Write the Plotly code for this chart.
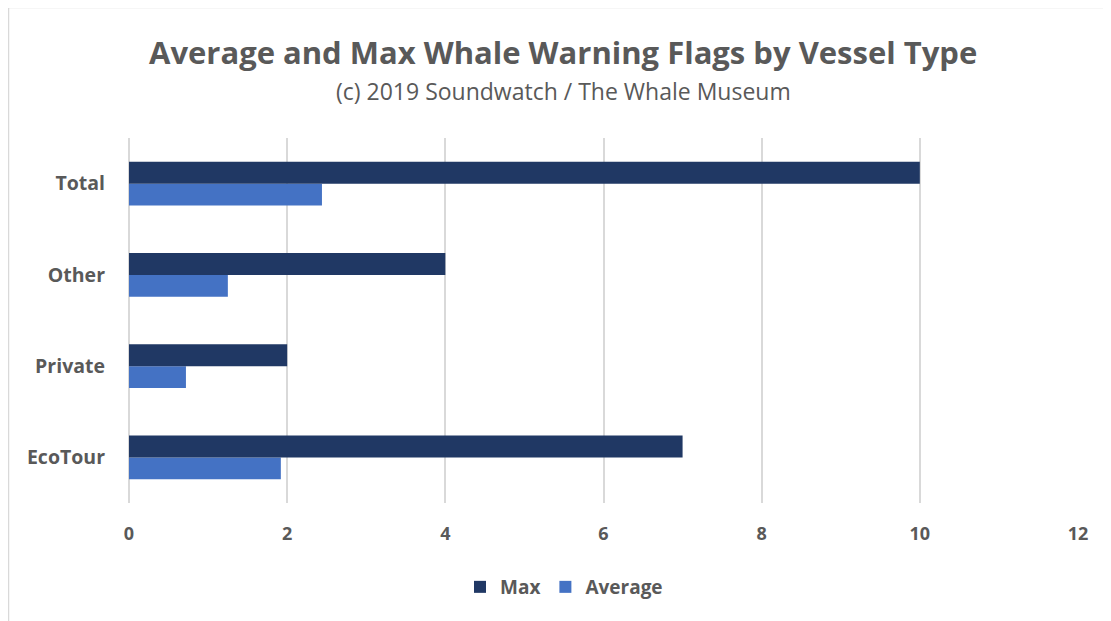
import plotly.graph_objects as go

categories = ["EcoTour", "Private", "Other", "Total"]
max_flags = [7, 2, 4, 10]
avg_flags = [1.92, 0.72, 1.25, 2.44]
x_ticks = [0, 2, 4, 6, 8, 10, 12]

FONT = "Open Sans"
GRAY = "#595959"

# page is drawn with an 8px body margin, so the figure is 8px smaller
W, H = 1103, 613
L, T, R, B = 121, 130, 33, 118
PH = H - T - B  # plot height


def py(fig_y):
    # figure pixel row -> paper y
    return (H - B - fig_y) / PH


def px_(fig_x):
    return (fig_x - L) / (W - L - R)


fig = go.Figure()
# first trace sits lowest in each group, so Average goes first
fig.add_trace(go.Bar(y=categories, x=avg_flags, name="Average", orientation="h",
                     marker=dict(color="#4472C4", line=dict(width=0))))
fig.add_trace(go.Bar(y=categories, x=max_flags, name="Max", orientation="h",
                     marker=dict(color="#203864", line=dict(width=0))))

fig.update_layout(
    width=W,
    height=H,
    margin=dict(l=L, r=R, t=T, b=B),
    plot_bgcolor="white",
    paper_bgcolor="white",
    barmode="group",
    bargap=0.52,
    bargroupgap=0,
    font=dict(family=FONT, color=GRAY),
    showlegend=True,
    legend=dict(orientation="h", traceorder="reversed", x=px_(556), xanchor="center",
                y=py(579), yanchor="middle",
                font=dict(size=19, color=GRAY, family=FONT, weight="bold"),
                itemwidth=30),
    xaxis=dict(range=[0, 12], tickvals=x_ticks, showgrid=True, gridcolor="#d9d9d9",
               gridwidth=1.5, zeroline=True, zerolinecolor="#d9d9d9", zerolinewidth=1.5,
               showline=False, ticks="",
               tickfont=dict(size=18, color=GRAY, family=FONT, weight="bold"),
               ticklabelstandoff=18),
    yaxis=dict(showgrid=False, zeroline=False, showline=False, ticks="",
               tickfont=dict(size=19.5, color=GRAY, family=FONT, weight="bold"),
               ticklabelstandoff=23),
    annotations=[
        dict(text="<b>Average and Max Whale Warning Flags by Vessel Type</b>",
             xref="paper", yref="paper", x=px_(555), y=py(44),
             xanchor="center", yanchor="middle", showarrow=False,
             font=dict(size=31, color=GRAY, family=FONT)),
        dict(text="(c) 2019 Soundwatch / The Whale Museum",
             xref="paper", yref="paper", x=px_(555), y=py(83),
             xanchor="center", yanchor="middle", showarrow=False,
             font=dict(size=23, color=GRAY, family=FONT)),
    ],
    shapes=[
        dict(type="rect", xref="paper", yref="paper", x0=px_(0.5), x1=2,
             y0=-2, y1=py(-0.5), line=dict(color="#d9d9d9", width=1.5),
             fillcolor="rgba(0,0,0,0)", layer="below"),
    ],
)

fig.write_html("out.html")
